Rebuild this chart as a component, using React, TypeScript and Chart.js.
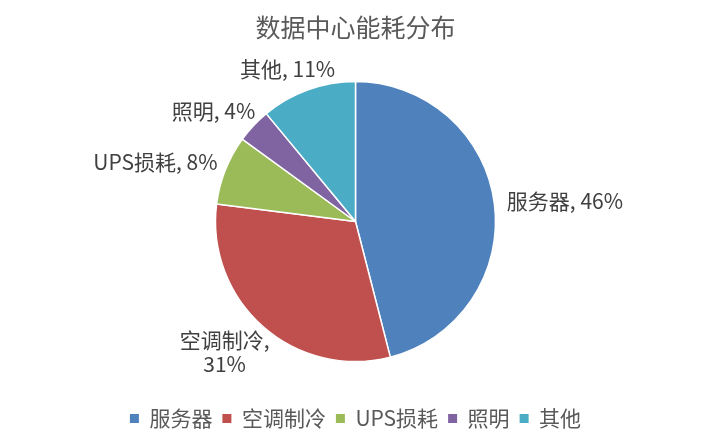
import React, { useEffect, useRef } from "react";
import { Chart, registerables } from "chart.js";

Chart.register(...registerables);

const TITLE = "数据中心能耗分布";
const categories = ["服务器", "空调制冷", "UPS损耗", "照明", "其他"];
const values = [46, 31, 8, 4, 11];
const colors = ["#4F81BD", "#C0504D", "#9BBB59", "#8064A2", "#4BACC6"];

const FONT = "'Noto Sans CJK SC', 'Noto Sans', sans-serif";

const labelPlugin = {
  id: "outsideLabels",
  afterDatasetsDraw(chart: any) {
    const ctx = chart.ctx;
    const meta = chart.getDatasetMeta(0);
    const data = chart.data.datasets[0].data as number[];
    const total = data.reduce((a: number, b: number) => a + b, 0);
    ctx.save();
    ctx.font = `21px ${FONT}`;
    ctx.fillStyle = "#404040";
    ctx.textAlign = "center";
    ctx.textBaseline = "middle";
    const lineH = 24;
    meta.data.forEach((arc: any, i: number) => {
      const p = arc.getProps(["x", "y", "startAngle", "endAngle", "outerRadius"], true);
      const mid = (p.startAngle + p.endAngle) / 2;
      const cos = Math.cos(mid);
      const sin = Math.sin(mid);
      const r = p.outerRadius + 13;
      const ax = p.x + cos * r;
      const ay = p.y + sin * (p.outerRadius + 10);
      const pct = Math.round((data[i] / total) * 100) + "%";
      const name = chart.data.labels[i] as string;
      let lines: string[];
      if (sin > 0.6) lines = [name + ",", pct];
      else lines = [name + ", " + pct];
      const w = Math.max(...lines.map((l) => ctx.measureText(l).width));
      const h = lines.length * lineH;
      const cx = ax + (cos * w) / 2;
      const cy = ay + (sin * h) / 2;
      lines.forEach((l, k) => {
        ctx.fillText(l, cx, cy - h / 2 + lineH / 2 + k * lineH);
      });
    });
    ctx.restore();
  },
};

export default function App() {
  const ref = useRef<HTMLCanvasElement | null>(null);
  useEffect(() => {
    if (!ref.current) return;
    const chart = new Chart(ref.current, {
      type: "pie",
      data: {
        labels: categories,
        datasets: [
          {
            data: values,
            backgroundColor: colors,
            borderColor: "#ffffff",
            borderWidth: 1.5,
            radius: 140,
          } as any,
        ],
      },
      options: {
        responsive: false,
        animation: false,
        layout: { padding: { top: 0, bottom: 6, left: 0, right: 0 } },
        plugins: {
          title: {
            display: true,
            text: TITLE,
            color: "#595959",
            font: { family: FONT, size: 25, weight: "normal" },
            padding: { top: 12, bottom: 3 },
          },
          legend: {
            position: "bottom",
            labels: {
              color: "#595959",
              font: { family: FONT, size: 21 },
              boxWidth: 9,
              boxHeight: 9,
              padding: 10,
              generateLabels: (c: any) => {
                const base = (Chart as any).overrides.pie.plugins.legend.labels.generateLabels(c);
                return base.map((it: any) => ({ ...it, lineWidth: 0, strokeStyle: "transparent" }));
              },
            },
          },
          tooltip: { enabled: false },
        },
      },
      plugins: [labelPlugin],
    });
    return () => chart.destroy();
  }, []);
  return (
    <div style={{ position: "fixed", left: 0, top: 0, width: 711, height: 445, background: "#fff" }}>
      <canvas ref={ref} width={711} height={445} />
    </div>
  );
}
